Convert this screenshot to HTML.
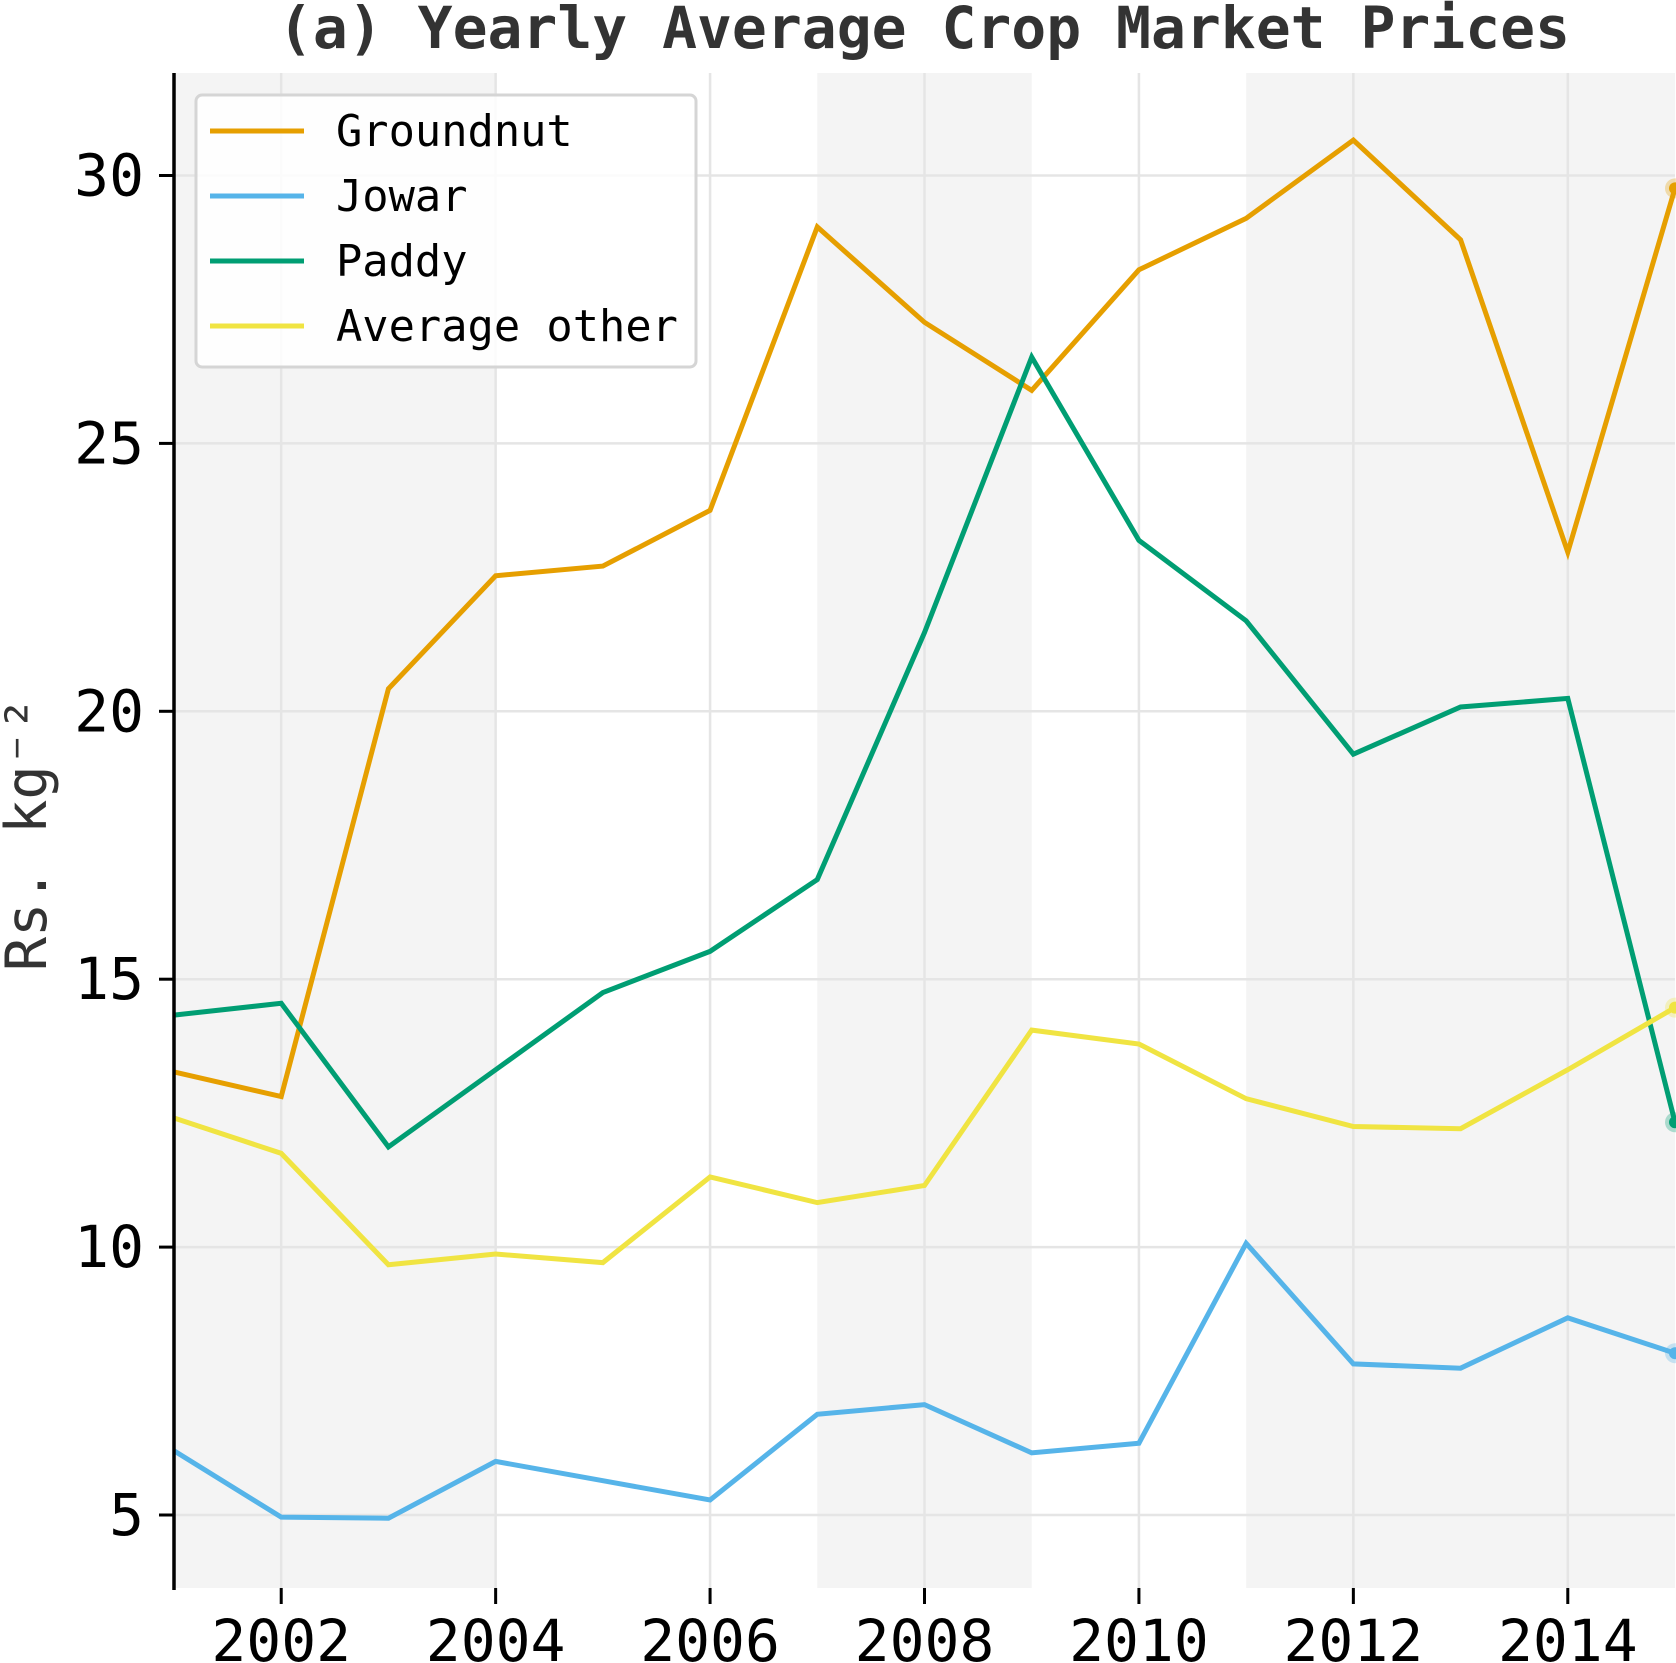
<!DOCTYPE html>
<html><head><meta charset="utf-8"><style>
html,body{margin:0;padding:0;background:#fff;}
svg{display:block;font-family:"DejaVu Sans Mono","Liberation Mono",monospace;}
</style></head><body>
<svg id="chart" width="1676" height="1663" viewBox="0 0 1676 1663" xmlns="http://www.w3.org/2000/svg">
<text x="924" y="48" text-anchor="middle" font-size="58" font-weight="bold" fill="#333">(a) Yearly Average Crop Market Prices</text>
<text transform="translate(46,834) rotate(-90)" text-anchor="middle" font-size="57" fill="#333">Rs. kg⁻²</text>
<g id="bands"></g><g id="grid"></g><g id="series"></g><g id="axes"></g><g id="legend"></g>
</svg>
<script>
const years=[2001,2002,2003,2004,2005,2006,2007,2008,2009,2010,2011,2012,2013,2014,2015];
const groundnut=[13.27,12.81,20.42,22.53,22.71,23.75,29.04,27.26,25.99,28.24,29.2,30.66,28.8,22.97,29.76];
const jowar=[6.2,4.96,4.94,6.0,5.64,5.28,6.88,7.06,6.16,6.34,10.07,7.82,7.74,8.68,8.02];
const paddy=[14.33,14.55,11.87,13.31,14.75,15.52,16.86,21.47,26.61,23.19,21.69,19.2,20.08,20.24,12.33];
const avgOther=[12.41,11.75,9.67,9.87,9.71,11.31,10.83,11.15,14.05,13.79,12.77,12.25,12.21,13.31,14.47];
const seriesNames=["Groundnut","Jowar","Paddy","Average other"];
const xTicks=[2002,2004,2006,2008,2010,2012,2014];
const yTicks=[5,10,15,20,25,30];
const bandRanges=[[2001,2004],[2007,2009],[2011,2015]];

const NS="http://www.w3.org/2000/svg";
const L=174,R=1675,T=73,B=1588;
const x=v=>L+(v-2001)*(R-L)/14;
const y=v=>1515-(v-5)*53.58;
function mk(tag,attrs,parent){const e=document.createElementNS(NS,tag);for(const k in attrs)e.setAttribute(k,attrs[k]);parent.appendChild(e);return e;}
const bands=document.getElementById('bands'),grid=document.getElementById('grid'),ser=document.getElementById('series'),axes=document.getElementById('axes'),leg=document.getElementById('legend');
bandRanges.forEach(b=>{const r=mk('rect',{x:x(b[0]),y:T,width:x(b[1])-x(b[0]),height:B-T,fill:'#f4f4f4'},bands);

});
xTicks.forEach(t=>{const g=mk('line',{x1:x(t),x2:x(t),y1:T,y2:B,stroke:'#e5e5e5','stroke-width':2.5},grid);


const tk=mk('line',{x1:x(t),x2:x(t),y1:B,y2:B+16,stroke:'#000','stroke-width':3},axes);


const tl=mk('text',{x:x(t),y:1661,'text-anchor':'middle','font-size':58,fill:'#000'},axes);tl.textContent=t;

});
yTicks.forEach(t=>{const g=mk('line',{x1:L,x2:R,y1:y(t),y2:y(t),stroke:'#e5e5e5','stroke-width':2.5},grid);


const tk=mk('line',{x1:L-15,x2:L,y1:y(t),y2:y(t),stroke:'#000','stroke-width':3},axes);


const tl=mk('text',{x:144,y:y(t)+20,'text-anchor':'end','font-size':58,fill:'#000'},axes);tl.textContent=t;

});
const sp=mk('line',{x1:L,x2:L,y1:T,y2:B+2,stroke:'#000','stroke-width':3.5},axes);


const allSeries=[groundnut,jowar,paddy,avgOther];
const colors=['#E69F00','#56B4E9','#009E73','#F0E442'];
const keys=['groundnut','jowar','paddy','average-other'];
allSeries.forEach((s,i)=>{const pts=s.map((v,j)=>x(years[j])+','+y(v)).join(' ');
const p=mk('polyline',{points:pts,fill:'none',stroke:colors[i],'stroke-width':5,'stroke-linejoin':'miter'},ser);


const n=s.length-1;
const h=mk('circle',{cx:x(years[n]),cy:y(s[n]),r:10,fill:colors[i],opacity:0.3},ser);


const c=mk('circle',{cx:x(years[n]),cy:y(s[n]),r:6,fill:colors[i]},ser);

});
const box=mk('rect',{x:196,y:95,width:500,height:272,rx:6,fill:'#fff','fill-opacity':0.85,stroke:'#d5d5d5','stroke-width':3},leg);


seriesNames.forEach((nm,i)=>{const yy=131+i*65;
const ln=mk('line',{x1:210,x2:304,y1:yy,y2:yy,stroke:colors[i],'stroke-width':5},leg);


const t=mk('text',{x:336,y:yy+15,'font-size':43.7,fill:'#000'},leg);t.textContent=nm;

});
</script>
</body></html>
